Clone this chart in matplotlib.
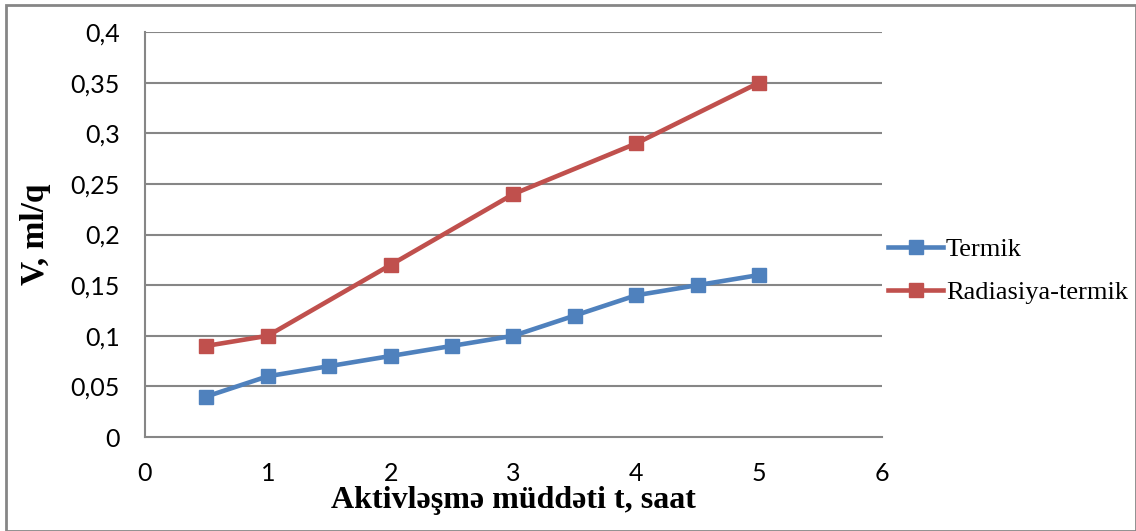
import matplotlib
matplotlib.use("Agg")
import matplotlib.pyplot as plt
from matplotlib.ticker import FuncFormatter

# data
t_termik = [0.5, 1, 1.5, 2, 2.5, 3, 3.5, 4, 4.5, 5]
v_termik = [0.04, 0.06, 0.07, 0.08, 0.09, 0.10, 0.12, 0.14, 0.15, 0.16]
t_rad = [0.5, 1, 2, 3, 4, 5]
v_rad = [0.09, 0.10, 0.17, 0.24, 0.29, 0.35]
x_ticks = [0, 1, 2, 3, 4, 5, 6]
y_ticks = [0, 0.05, 0.1, 0.15, 0.2, 0.25, 0.3, 0.35, 0.4]

fig = plt.figure(figsize=(11.36, 5.31), dpi=100)
ax = fig.add_axes([0.1276, 0.177, 0.6488, 0.7627])

grid_c = '#868686'
for yv in y_ticks[1:]:
    ax.axhline(yv, color=grid_c, lw=1.5, zorder=1)

ax.plot(t_termik, v_termik, color='#4F81BD', lw=3.3, marker='s', ms=10.5,
        label='Termik', zorder=3)
ax.plot(t_rad, v_rad, color='#C0504D', lw=3.3, marker='s', ms=10.5,
        label='Radiasiya-termik', zorder=3)

ax.set_xlim(0, 6)
ax.set_ylim(0, 0.4)
ax.set_xticks(x_ticks)
ax.set_yticks(y_ticks)
ax.yaxis.set_major_formatter(FuncFormatter(lambda v, p: ('%g' % v).replace('.', ',')))
ax.tick_params(length=0, labelsize=18, pad=18)
for lab in ax.get_xticklabels() + ax.get_yticklabels():
    lab.set_family('Lato')
ax.tick_params(axis='x', pad=18)

for s in ['top', 'right']:
    ax.spines[s].set_visible(False)
for s in ['left', 'bottom']:
    ax.spines[s].set_color(grid_c)
    ax.spines[s].set_linewidth(1.5)

ax.set_xlabel('Aktivləşmə müddəti t, saat', family='Liberation Serif',
              fontweight='bold', fontsize=23, labelpad=1)
ax.set_ylabel('V, ml/q', family='Liberation Serif', fontweight='bold',
              fontsize=24, labelpad=14)

leg = ax.legend(loc='center left', bbox_to_anchor=(1.008, 0.41), frameon=False,
                prop={'family': 'Liberation Serif', 'size': 19},
                handlelength=2.1, handletextpad=0.1, labelspacing=0.75,
                borderaxespad=0.0, borderpad=0.0)

# outer chart border
fig.patches.append(plt.Rectangle((0.005, 0.0), 0.995, 0.99, transform=fig.transFigure,
                                 fill=False, edgecolor='#868686', lw=2))

fig.savefig('out.png', dpi=100)
